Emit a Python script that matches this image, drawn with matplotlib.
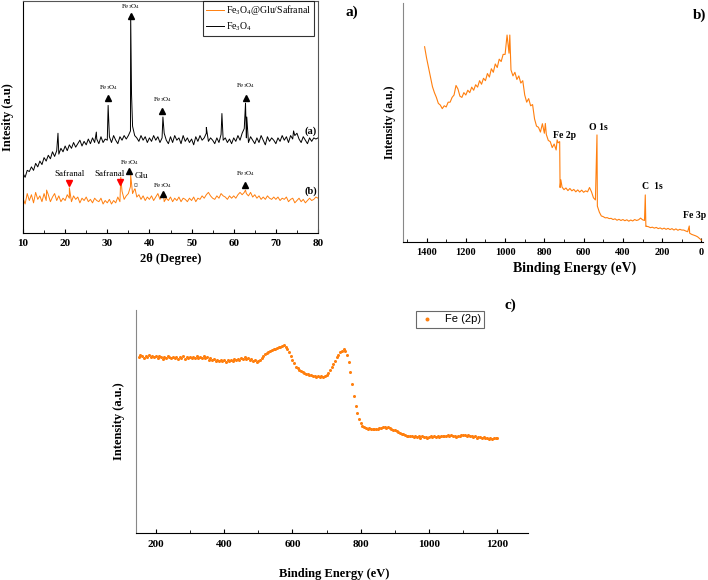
import numpy as np
import matplotlib
matplotlib.use("Agg")
import matplotlib.pyplot as plt
from matplotlib.ticker import MultipleLocator

plt.rcParams['font.family'] = ['Liberation Serif', 'DejaVu Serif']
plt.rcParams['mathtext.fontset'] = 'custom'
plt.rcParams['mathtext.rm'] = 'Liberation Serif'
plt.rcParams['mathtext.it'] = 'Liberation Serif:italic'
plt.rcParams['mathtext.bf'] = 'Liberation Serif:bold'

ORANGE = '#ff7f0e'

# ---------------- Panel a: XRD ----------------
xrd_start, xrd_stop, xrd_step = 10.0, 80.0, 0.5
fe3o4_base = [
    25.7, 24, 27, 26.5, 28.5, 27, 30, 28.5, 31, 29.5,
    32.5, 31, 33.5, 32, 35, 33, 35.5, 34, 36.5, 35,
    37.5, 35.5, 38, 36.5, 39, 37, 38.5, 40, 37.5, 39.5,
    38, 40.5, 38.5, 41, 39, 40.5, 38.5, 41.5, 39, 40.5,
    40, 41.5, 39, 42, 40, 38.5, 41.5, 40, 42, 40.5,
    42, 44, 46, 42, 41, 39.5, 42, 40, 41.5, 39,
    41, 39.5, 42, 40, 41.5, 39, 41, 43, 40, 38.5,
    41.5, 39, 42, 40, 41, 38.5, 42, 39.5, 41, 39,
    40.5, 38, 41.5, 39.5, 42, 40, 41, 43, 39.5, 41,
    40, 38.5, 41, 39, 42.5, 40, 41, 39, 40.5, 38.5,
    41, 39.5, 42, 40, 43, 45, 41, 39, 41.5, 40,
    38.5, 41, 39, 42, 40, 38, 41.5, 39.5, 41, 40,
    38.5, 41, 39.5, 42, 40, 41.5, 39, 42, 40.5, 42,
    43, 40.5, 39, 41.5, 40, 38.5, 41, 39.5, 41, 40.5,
    41]
fe3o4_peak_x = [18.3, 27.4, 30.2, 35.55, 35.75, 43.2, 53.5, 57.2, 62.8, 63.1, 74.2]
fe3o4_peak_y = [43, 43.5, 55, 94, 60, 50, 45.5, 51.5, 56, 50, 44]

comp_base = [
    15, 12.5, 17, 14, 16.5, 13, 17.5, 14.5, 16, 13.5,
    17, 14, 16.5, 13.5, 15.5, 17, 14, 16, 13.5, 15,
    14, 16.5, 15, 13.5, 16, 14.5, 15.5, 13, 15, 14,
    15.5, 13.5, 14.5, 13, 15, 14, 13.5, 15, 12.5, 14,
    13, 14.5, 12.5, 14, 13, 15.5, 13.5, 18, 14.5, 16,
    17, 20, 17, 19, 15.5, 16.5, 14.5, 16, 14, 15.5,
    14.5, 16, 14, 15.5, 17, 14.5, 16, 13.5, 15, 14,
    15.5, 13.5, 15, 14, 15.5, 13.5, 15, 14.5, 13.5, 15,
    14, 15.5, 13.5, 15, 14.5, 16, 15, 16.5, 17.5, 16,
    15, 14.5, 16, 15, 17, 16, 15.5, 14.5, 16, 15,
    16, 15, 16.5, 17.5, 16.5, 17.5, 17, 16, 17.5, 15.5,
    16.5, 15, 16, 14.5, 15.5, 14.5, 16, 15, 14.5, 15.5,
    14.5, 15.5, 14, 15, 14.5, 15.5, 13.5, 14.5, 15, 13,
    14, 15, 13.5, 14.5, 13, 14, 15, 14, 14.5, 15.5,
    15]
comp_peak_x = [15.6, 21.0, 33.2, 35.55, 36.6, 43.3, 62.8]
comp_peak_y = [18.5, 19.5, 24, 25, 19, 17.5, 18.5]

# ---------------- Panel b: XPS survey ----------------
survey_start, survey_stop, survey_step = 0, 1400, 10
survey_base = [
    0.8, 1.5, 2.2, 2.6, 2.9, 3.2, 3.7, 4.3, 4.6, 5.0, 5.0,
    5.3, 4.9, 5.5, 5.0, 5.6, 5.2, 5.7, 5.3, 5.8, 5.4,
    5.9, 5.6, 6.1, 5.8, 6.2, 6.0, 6.4, 6.6, 9.0, 9.3,
    10.0, 9.3, 9.0, 9.4, 8.8, 9.2, 8.7, 9.3, 8.9, 9.4,
    9.0, 9.5, 9.1, 9.7, 9.4, 9.9, 9.8, 10.2, 10.1, 10.6,
    10.9, 12.5, 15.0, 17.6, 18.5, 21.0, 22.8, 21.0, 21.4, 20.8,
    21.7, 20.9, 21.8, 21.0, 22.0, 21.4, 22.4, 21.5, 22.6, 21.9,
    23.0, 22.8, 41.5, 38.5, 41.0, 39.5, 42.0, 42.5, 45.0, 45.5,
    49.5, 46.0, 48.0, 48.5, 51.5, 57.5, 57.0, 60.0, 58.5, 61.5,
    67.5, 66.5, 69.5, 68.0, 71.0, 69.5, 72.0, 79.0, 86.6, 78.5,
    78.5, 75.5, 76.5, 73.0, 74.5, 71.0, 72.5, 69.0, 70.5, 67.5,
    68.5, 66.0, 67.5, 64.8, 65.8, 63.5, 64.8, 62.5, 63.5, 61.5,
    62.5, 60.5, 61.0, 64.0, 65.5, 61.5, 60.5, 58.5, 58.5, 56.5,
    57.0, 55.8, 57.3, 58.0, 60.5, 62.5, 65.0, 69.0, 73.0, 77.0,
    81.7]
survey_peak_x = [62, 283, 286, 532, 716, 722, 735, 795, 976]
survey_peak_y = [6.7, 6.5, 19.7, 44.8, 26.0, 42.0, 42.7, 49.6, 86.6]
survey_labels = ['Fe 2p', 'O 1s', 'C  1s', 'Fe 3p']
survey_label_x = [695, 526, 250, 33]
survey_label_y = [44.4, 48.0, 23.4, 10.9]

# ---------------- Panel c: Fe 2p ----------------
fe2p_start, fe2p_stop, fe2p_step = 150, 1200, 5
fe2p_y = [
    79.0, 79.8, 79.2, 78.6, 79.5, 78.9, 79.6, 78.7, 79.3, 78.8,
    79.5, 78.6, 79.2, 78.9, 78.2, 79.1, 78.5, 79.4, 78.8, 78.3,
    79.0, 78.4, 78.9, 78.1, 78.8, 78.5, 79.2, 78.2, 78.7, 78.4,
    79.0, 78.3, 78.8, 78.6, 79.3, 78.4, 79.0, 78.5, 79.4, 78.6,
    78.9, 77.8, 78.5, 77.6, 77.9, 77.2, 77.8, 77.1, 77.6, 77.0,
    77.4, 76.8, 77.5, 77.0, 77.6, 77.3, 78.0, 77.5, 78.2, 77.8,
    78.6, 78.0, 78.9, 78.2, 78.5, 77.8, 78.0, 77.2, 77.5, 76.9,
    77.3, 77.8, 78.4, 79.5, 80.2, 80.8, 81.2, 81.8, 82.0, 82.6,
    82.3, 83.0, 83.2, 83.6, 83.9, 84.2, 83.5, 82.4, 81.0, 79.5,
    77.8, 76.2, 74.5, 73.8, 73.0, 72.6, 72.2, 71.8, 71.5, 71.3,
    71.0, 70.8, 70.4, 70.6, 70.1, 70.3, 69.9, 70.2, 70.0, 70.5,
    70.9, 71.8, 73.0, 74.5, 75.8, 77.2, 78.8, 80.0, 81.0, 81.8,
    82.4, 81.8, 80.0, 76.5, 72.0, 66.8, 61.5, 57.0, 53.7, 51.0,
    49.2, 48.0, 47.4, 47.0, 46.8, 46.9, 46.6, 46.8, 46.5, 46.7,
    46.5, 46.9, 47.2, 47.4, 47.6, 47.3, 47.5, 47.1, 46.8, 46.4,
    46.2, 45.8, 45.3, 44.9, 44.5, 44.2, 43.9, 43.6, 43.5, 43.4,
    43.5, 43.2, 43.6, 43.0, 43.4, 42.8, 43.3, 42.9, 43.1, 42.7,
    42.9, 43.4, 43.0, 43.5, 43.1, 43.6, 43.2, 43.7, 43.3, 43.6,
    43.4, 43.8, 43.5, 43.9, 43.4, 43.7, 43.2, 43.6, 43.3, 43.8,
    43.8, 44.0, 43.6, 43.9, 43.4, 43.5, 43.0, 43.3, 42.8, 43.1,
    42.9, 42.5, 43.0, 42.4, 42.8, 42.3, 42.7, 42.2, 42.6, 42.5,
    42.5]


def merged(start, step, base, px, py):
    gx = start + step * np.arange(len(base))
    x = np.concatenate([gx, np.asarray(px, float)])
    y = np.concatenate([np.asarray(base, float), np.asarray(py, float)])
    o = np.argsort(x, kind='stable')
    return x[o], y[o]


W, H = 708, 580
fig = plt.figure(figsize=(W / 100, H / 100), dpi=100)


def rect(l, t, r, b):
    return [l / W, 1 - b / H, (r - l) / W, (b - t) / H]


bold = dict(fontweight='bold')

# ---- Panel a ----
axa = fig.add_axes(rect(23, 1, 318, 233))
x1, y1 = merged(xrd_start, xrd_step, comp_base, comp_peak_x, comp_peak_y)
x2, y2 = merged(xrd_start, xrd_step, fe3o4_base, fe3o4_peak_x, fe3o4_peak_y)
axa.plot(x1, y1, color=ORANGE, lw=0.7, label=r'Fe$_3$O$_4$@Glu/Safranal')
axa.plot(x2, y2, color='black', lw=0.7, label=r'Fe$_3$O$_4$')
axa.set_xlim(10, 80)
axa.set_ylim(0, 100)
axa.set_yticks([])
axa.xaxis.set_major_locator(MultipleLocator(10))
axa.xaxis.set_minor_locator(MultipleLocator(5))
axa.tick_params(axis='x', which='both', direction='in', top=False)
axa.tick_params(axis='x', which='major', length=3, labelsize=8, pad=4)
axa.tick_params(axis='x', which='minor', length=2)
for t in axa.get_xticklabels():
    t.set_fontweight('bold')
for s in ['top', 'right']:
    axa.spines[s].set_color('#555555')
axa.set_xlabel('2θ (Degree)', fontsize=9, **bold)
axa.xaxis.set_label_coords(0.5, -0.085)
axa.set_ylabel('Intesity (a.u)', fontsize=9, **bold)
axa.yaxis.set_label_coords(-0.03, 0.5)
leg = axa.legend(loc='upper right', bbox_to_anchor=(0.985, 1.0), borderaxespad=0,
                 fontsize=7, frameon=True, fancybox=False, edgecolor='black',
                 handlelength=1.9, labelspacing=0.35, borderpad=0.25,
                 handletextpad=0.2)
leg.get_frame().set_linewidth(0.8)

fe_lbl = r'Fe$_3$O$_4$'
black_tri_x = [35.6, 30.2, 43.0, 62.9, 35.2, 43.2, 62.7]
black_tri_y = [93.6, 58.0, 52.8, 58.4, 26.6, 16.7, 20.6]
fe_text_y = [97.4, 62.7, 57.5, 63.5, 30.5, 20.6, 25.8]
axa.plot(black_tri_x, black_tri_y, ls='none', marker='^', ms=4.5, color='black')
for xx, yy in zip(black_tri_x, fe_text_y):
    axa.text(xx, yy, fe_lbl, fontsize=5, ha='center', va='center')
red_tri_x = [21.0, 33.0]
red_tri_y = [21.5, 21.9]
axa.plot(red_tri_x, red_tri_y, ls='none', marker='v', ms=4, color='red')
axa.text(21.0, 25.3, 'Safranal', fontsize=6.5, ha='center', va='center')
axa.text(30.6, 25.6, 'Safranal', fontsize=6.5, ha='center', va='center')
axa.text(38.2, 24.5, 'Glu', fontsize=6.5, ha='center', va='center')
axa.text(36.8, 20.2, '¤', fontsize=5.5, ha='center', va='center')
axa.text(78.3, 43.8, '(a)', fontsize=7.5, ha='center', va='center', **bold)
axa.text(78.3, 18.0, '(b)', fontsize=7.5, ha='center', va='center', **bold)

# ---- Panel b ----
axb = fig.add_axes(rect(403, 3, 703, 242))
xs, ys = merged(survey_start, survey_step, survey_base, survey_peak_x, survey_peak_y)
axb.plot(xs, ys, color=ORANGE, lw=0.8)
axb.set_xlim(1520, -8)
axb.set_ylim(0, 100)
axb.set_yticks([])
axb.xaxis.set_major_locator(MultipleLocator(200))
axb.xaxis.set_minor_locator(MultipleLocator(100))
axb.tick_params(axis='x', which='both', direction='in')
axb.tick_params(axis='x', which='major', length=3, labelsize=7.5, pad=4)
axb.tick_params(axis='x', which='minor', length=2)
for t in axb.get_xticklabels():
    t.set_fontweight('bold')
axb.spines['top'].set_visible(False)
axb.spines['right'].set_visible(False)
axb.spines['left'].set_color('#888888')
axb.set_xlabel('Binding Energy (eV)', fontsize=10, **bold)
axb.xaxis.set_label_coords(0.573, -0.08)
axb.set_ylabel('Intensity (a.u.)', fontsize=8.5, **bold)
axb.yaxis.set_label_coords(-0.025, 0.5)
for lab, lx, ly in zip(survey_labels, survey_label_x, survey_label_y):
    axb.text(lx, ly, lab, fontsize=7, ha='center', va='center', **bold)

# ---- Panel c ----
axc = fig.add_axes(rect(136, 310, 528, 533))
fx = fe2p_start + fe2p_step * np.arange(len(fe2p_y))
axc.plot(fx, fe2p_y, ls='none', marker='o', ms=2.2, mew=0, color=ORANGE,
         label='Fe (2p)')
axc.set_xlim(142, 1290)
axc.set_ylim(0, 100)
axc.set_yticks([])
axc.xaxis.set_major_locator(MultipleLocator(200))
axc.xaxis.set_minor_locator(MultipleLocator(100))
axc.tick_params(axis='x', which='both', direction='in')
axc.tick_params(axis='x', which='major', length=3, labelsize=8, pad=5)
axc.tick_params(axis='x', which='minor', length=2)
for t in axc.get_xticklabels():
    t.set_fontweight('bold')
axc.spines['top'].set_visible(False)
axc.spines['right'].set_visible(False)
axc.spines['left'].set_color('#888888')
axc.set_xlabel('Binding Energy (eV)', fontsize=9, **bold)
axc.xaxis.set_label_coords(0.505, -0.155)
axc.set_ylabel('Intensity (a.u.)', fontsize=9, **bold)
axc.yaxis.set_label_coords(-0.028, 0.5)
legc = axc.legend(loc='upper right', bbox_to_anchor=(0.888, 0.995), borderaxespad=0,
                  prop={'family': 'Liberation Sans', 'size': 8}, frameon=True,
                  fancybox=False, edgecolor='#444444', markerscale=1.3,
                  handlelength=1.5, borderpad=0.3)
legc.get_frame().set_linewidth(0.8)

fig.text(352 / W, 1 - 12 / H, 'a)', fontsize=11, ha='center', va='center', **bold)
fig.text(700 / W, 1 - 15 / H, 'b)', fontsize=11, ha='center', va='center', **bold)
fig.text(510 / W, 1 - 305 / H, 'c)', fontsize=11, ha='center', va='center', **bold)

fig.savefig('out.png', dpi=100)
